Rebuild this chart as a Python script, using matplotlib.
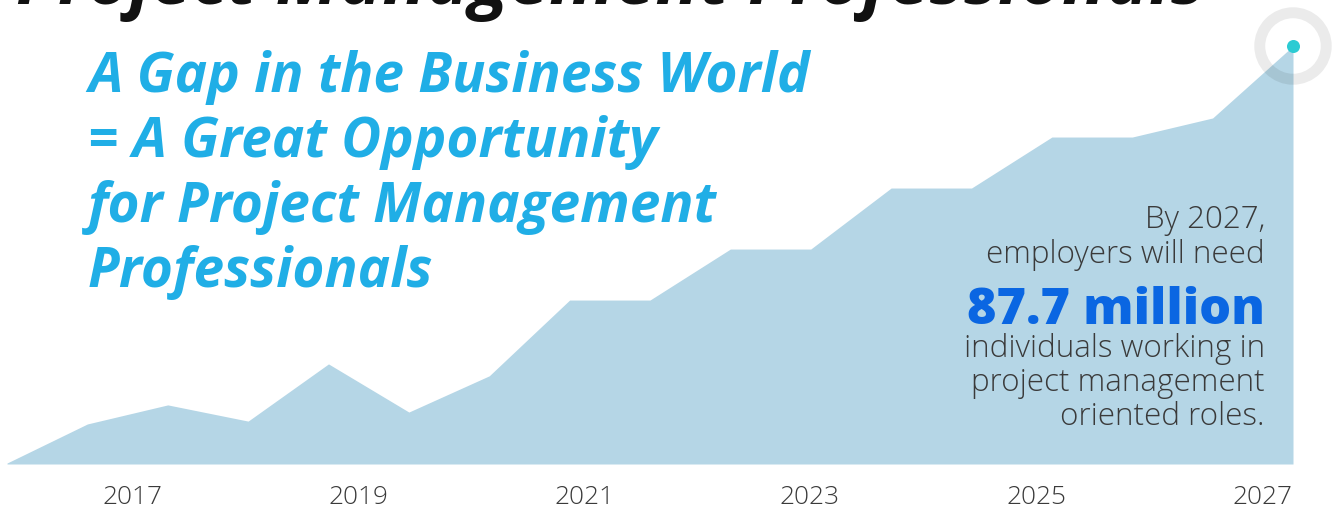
import matplotlib
matplotlib.use("Agg")
import numpy as np
import matplotlib.pyplot as plt

ANCHO, ALTO = 1342, 508

# datos (millones de profesionales, puntos equiespaciados)
puntos = np.arange(17)
valores = [0.2, 8.4, 12.4, 9.0, 21.0, 10.9, 18.5, 34.4, 34.4,
           45.1, 45.1, 57.9, 57.9, 68.6, 68.6, 72.6, 87.7]
anios = [2017, 2019, 2021, 2023, 2025, 2027]

titulo = "Project Management Professionals"
encabezado = ["A Gap in the Business World",
              "= A Great Opportunity",
              "for Project Management",
              "Professionals"]
nota_arriba = ["By 2027,", "employers will need"]
cifra = "87.7 million"
nota_abajo = ["individuals working in", "project management", "oriented roles."]

AZUL_AREA = "#b5d6e6"
AZUL_TEXTO = "#20aee6"
AZUL_CIFRA = "#0a66e2"
GRIS = "#3a3a3a"


def px(x, y):
    return x / ANCHO, 1 - y / ALTO


def ajustar_ancho(fig, texto, ancho_px):
    r = fig.canvas.get_renderer()
    for _ in range(2):
        bb = texto.get_window_extent(r)
        texto.set_fontsize(texto.get_fontsize() * ancho_px / bb.width)
    return texto.get_fontsize()


def dibujar():
    fig = plt.figure(figsize=(ANCHO / 100, ALTO / 100), dpi=100)
    izq, der, base, tope = 7, 1293, 464, 46
    ax = fig.add_axes([izq / ANCHO, 1 - base / ALTO,
                       (der - izq) / ANCHO, (base - tope) / ALTO])
    ax.fill_between(puntos, valores, 0, color=AZUL_AREA, lw=0)
    ax.set_xlim(puntos[0], puntos[-1])
    ax.set_ylim(0, valores[-1])
    for s in ax.spines.values():
        s.set_visible(False)
    ax.set_yticks([])

    # las etiquetas de anio no coinciden con los vertices: 2017 en x=132px, 2027 en x=1262px
    paso_px = (der - izq) / (len(puntos) - 1)
    pos_2017 = (132 - izq) / paso_px
    pos_2027 = (1262 - izq) / paso_px
    ticks = [pos_2017 + (a - anios[0]) * (pos_2027 - pos_2017) / (anios[-1] - anios[0]) for a in anios]
    ax.set_xticks(ticks, [str(a) for a in anios])
    ax.tick_params(axis="x", length=0, pad=14, colors=GRIS, labelsize=18)
    etiquetas = ax.get_xticklabels()
    for t in etiquetas:
        t.set_fontfamily("Open Sans")
        t.set_fontweight("light")
    tam = ajustar_ancho(fig, etiquetas[0], 60)
    ax.tick_params(axis="x", labelsize=tam, pad=15)

    # marcador del ultimo punto
    ax.scatter([puntos[-1]], [valores[-1]], s=2290, facecolors="none",
               edgecolors=(0, 0, 0, 0.08), linewidths=7.9, clip_on=False, zorder=3)
    ax.scatter([puntos[-1]], [valores[-1]], s=88, color="#2ccbd3", lw=0,
               clip_on=False, zorder=4)

    # titulo cortado arriba, como en la imagen original
    t = fig.text(*px(16, 4), titulo, fontsize=48, fontweight="bold", fontstyle="italic",
                 family="Open Sans", color="#111111", va="baseline", ha="left")
    ajustar_ancho(fig, t, 1190)

    # encabezado azul
    lineas = []
    for i, linea in enumerate(encabezado):
        lineas.append(fig.text(*px(88, 92 + 65 * i), linea, fontsize=34, fontweight="bold",
                               fontstyle="italic", family="Open Sans", color=AZUL_TEXTO,
                               va="baseline", ha="left"))
    tam = ajustar_ancho(fig, lineas[0], 722)
    for l in lineas[1:]:
        l.set_fontsize(tam)

    # nota de la derecha
    x_der = 1265
    pequenas = []
    for linea, y in zip(nota_arriba, [228, 263]):
        pequenas.append(fig.text(*px(x_der, y), linea, fontsize=18, fontweight="light",
                                 family="Open Sans", color=GRIS, va="baseline", ha="right"))
    for linea, y in zip(nota_abajo, [357, 391, 425]):
        pequenas.append(fig.text(*px(x_der, y), linea, fontsize=18, fontweight="light",
                                 family="Open Sans", color=GRIS, va="baseline", ha="right"))
    tam = ajustar_ancho(fig, pequenas[2], 300)
    for p in pequenas:
        p.set_fontsize(tam)
    c = fig.text(*px(x_der, 324), cifra, fontsize=34, fontweight="heavy",
                 family="Open Sans", color=AZUL_CIFRA, va="baseline", ha="right")
    ajustar_ancho(fig, c, 298)

    fig.savefig("out.png", dpi=100)


if __name__ == '__main__':
    dibujar()
